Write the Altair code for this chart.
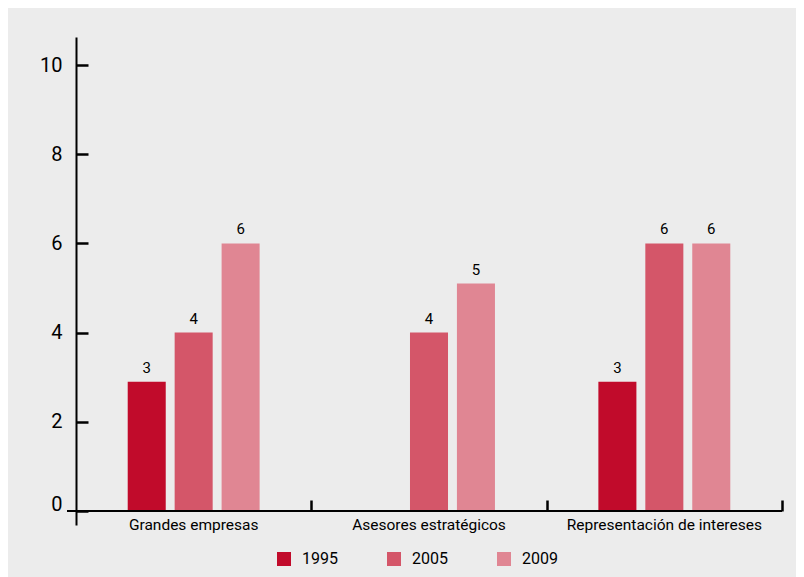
import altair as alt
import pandas as pd

categories = ["Grandes empresas", "Asesores estratégicos", "Representación de intereses"]
years = ["1995", "2005", "2009"]
v1995 = [2.9, None, 2.9]
v2005 = [4.0, 4.0, 6.0]
v2009 = [6.0, 5.1, 6.0]
colors = ["#c10b2b", "#d45669", "#e08693"]
y_ticks = [0, 2, 4, 6, 8, 10]

rows = []
for year, vals in zip(years, [v1995, v2005, v2009]):
    for cat, v in zip(categories, vals):
        if v is not None:
            rows.append({"categoria": cat, "anio": year, "valor": v})
df = pd.DataFrame(rows)

W, H = 706, 488
FONT = "Roboto"
ymin, ymax = -0.314, 10.628

x_scale = alt.Scale(domain=categories, paddingInner=0.24, paddingOuter=0.12)
y_scale = alt.Scale(domain=[ymin, ymax], nice=False, zero=False)
xo_scale = alt.Scale(domain=years, paddingInner=0.19, paddingOuter=0.5)
color_scale = alt.Scale(domain=years, range=colors)

base = alt.Chart(df)

bars = base.mark_bar().encode(
    x=alt.X("categoria:N", sort=categories, scale=x_scale, title=None,
            axis=alt.Axis(orient="bottom", offset=-14, domain=False, ticks=False,
                          labelPadding=6, labelFontSize=15.5, labelColor="#000",
                          labelFont=FONT, labelAngle=0, labelLimit=0)),
    y=alt.Y("valor:Q", scale=y_scale, title=None,
            axis=alt.Axis(orient="left", values=y_ticks, ticks=False, grid=False,
                          domain=True, domainColor="#000", domainWidth=2,
                          labelPadding=14, labelFontSize=20, labelColor="#000",
                          labelFont=FONT,
                          labelOffset={"condition": {"test": "datum.value == 0", "value": -6}, "value": 0})),
    xOffset=alt.XOffset("anio:N", scale=xo_scale),
    color=alt.Color("anio:N", scale=color_scale, title=None,
                    legend=alt.Legend(orient="none", legendX=200, legendY=514,
                                      direction="horizontal", symbolType="square",
                                      symbolSize=196, symbolStrokeWidth=0,
                                      labelFontSize=16, labelFont=FONT, labelColor="#000",
                                      labelOffset=10, columnPadding=48, padding=0)),
)

labels = base.mark_text(baseline="alphabetic", dy=-9, fontSize=15, font=FONT, color="#000").encode(
    x=alt.X("categoria:N", sort=categories, scale=x_scale, title=None,
            axis=alt.Axis(orient="top", offset=-474, bandPosition=0.5, tickOffset=W / 6,
                          labels=False, domain=False, ticks=True, tickSize=11,
                          tickWidth=2.5, tickColor="#000", grid=False)),
    y=alt.Y("valor:Q", scale=y_scale, title=None,
            axis=alt.Axis(orient="right", offset=-W, values=y_ticks, labels=False,
                          domain=False, ticks=True, tickSize=12, tickWidth=2.5,
                          tickColor="#000", grid=False)),
    xOffset=alt.XOffset("anio:N", scale=xo_scale),
    text=alt.Text("valor:Q", format=".0f"),
)

baseline = alt.Chart(alt.Data(values=[{}])).mark_rule(color="#000", strokeWidth=2).encode(
    y=alt.datum(0, scale=y_scale, axis=None),
    x=alt.value(-9),
    x2=alt.value(W),
)

chart = alt.layer(bars, labels, baseline).resolve_axis(
    x="independent", y="independent"
).properties(
    width=W, height=H,
    autosize=alt.AutoSizeParams(type="none"),
    padding={"left": 68, "top": 29, "right": 14, "bottom": 52},
    background="#ececec",
).configure_view(stroke=None).configure_axis(grid=False)

chart.save("out.html", embed_options={"renderer": "svg", "actions": False})
